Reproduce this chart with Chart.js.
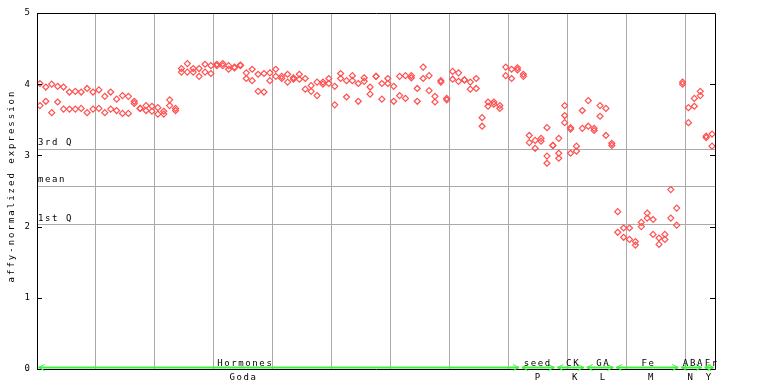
<!DOCTYPE html>
<html><head><meta charset="utf-8">
<script src="https://cdn.jsdelivr.net/npm/chart.js@4/dist/chart.umd.min.js"></script>
<style>html,body{margin:0;padding:0;background:#fff}</style>
</head><body>
<canvas id="c" width="768" height="384" style="display:block;width:768px;height:384px"></canvas>
<script>
// ---- data (sample index 0..114, two/three replicate values per sample) ----
const sampleCount = 115;
const rep1 = [4.01,3.96,4.00,3.97,3.96,3.89,3.90,3.89,3.94,3.89,3.92,3.83,3.89,3.79,3.84,3.83,3.76,3.66,3.70,3.69,
  3.67,3.62,3.78,3.66,4.22,4.29,4.22,4.22,4.28,4.26,4.28,4.29,4.26,4.24,4.26,4.16,4.21,4.14,4.15,4.16,
  4.21,4.11,4.14,4.07,4.14,4.08,3.98,4.03,4.03,4.08,3.97,4.15,4.05,4.12,4.01,4.09,3.96,4.11,4.01,4.08,
  3.97,4.11,4.12,4.12,3.94,4.24,4.12,3.83,4.05,3.80,4.18,4.16,4.06,4.03,4.08,3.53,3.75,3.75,3.70,4.24,
  4.21,4.23,4.14,3.28,3.21,3.24,3.39,3.14,3.24,3.70,3.39,3.13,3.63,3.77,3.38,3.70,3.66,3.17,2.21,1.98,
  1.98,1.79,2.06,2.19,2.10,1.84,1.89,2.52,2.26,4.03,3.67,3.80,3.90,3.27,3.30];
const rep2 = [3.70,3.76,3.60,3.75,3.65,3.65,3.65,3.66,3.60,3.65,3.66,3.60,3.65,3.63,3.59,3.59,3.73,3.66,3.63,3.62,
  3.58,3.58,3.70,3.63,4.17,4.17,4.17,4.11,4.17,4.15,4.26,4.26,4.21,4.23,4.27,4.08,4.05,3.90,3.89,4.05,
  4.11,4.08,4.03,4.09,4.07,3.93,3.90,3.84,4.00,4.01,3.71,4.08,3.82,4.05,3.76,4.04,3.86,4.11,3.79,4.01,
  3.76,3.84,3.80,4.09,3.76,4.08,3.91,3.75,4.03,3.78,4.07,4.04,4.06,3.93,3.94,3.41,3.69,3.72,3.66,4.12,
  4.08,4.20,4.11,3.18,3.10,3.20,2.99,3.14,3.03,3.56,3.37,3.06,3.38,3.41,3.35,3.55,3.28,3.14,1.92,1.85,
  1.82,1.74,2.00,2.12,1.89,1.75,1.82,2.12,2.02,4.00,3.46,3.69,3.84,3.25,3.13];
const rep3Index = [86, 88, 89, 90];
const rep3Value = [2.89, 2.96, 3.46, 3.03];
const yTickValues = [0, 1, 2, 3, 4, 5];
const refLabels = ['3rd Q', 'mean', '1st Q'];
const refValues = [3.095, 2.575, 2.03];
const groupTop = ['Hormones', 'seed', 'CK', 'GA', 'Fe', 'ABA', 'Fr'];
const groupBottom = ['Goda', 'P', 'K', 'L', 'M', 'N', 'Y'];
const groupStart = [0, 82, 88, 93, 98, 109, 113];
const groupEnd = [82, 88, 93, 98, 109, 113, 115];
const topLabelAt = [35.2, 84.8, 90.8, 95.9, 103.6, 111.2, 114.3];
const bottomLabelAt = [34.9, 84.9, 91.2, 95.9, 104.1, 110.8, 113.9];
const yTitle = 'affy-normalized expression';

// ---- chart ----
const FONT = '"DejaVu Sans Mono", "Liberation Mono", monospace';
const toPts = arr => arr.map((v, i) => ({x: i + 0.5, y: v}));
const pts3 = rep3Index.map((ix, k) => ({x: ix + 0.5, y: rep3Value[k]}));
const pointStyle = {pointStyle: 'rectRot', pointRadius: 3, pointBorderWidth: 1.2,
  pointBorderColor: '#ff5050', pointBackgroundColor: 'rgba(255,255,255,0)', showLine: false};

const al = v => Math.round(v) + 0.5;

const deco = {
  id: 'deco',
  beforeDatasetsDraw(chart) {
    const {ctx, chartArea: a, scales: {y}} = chart;
    ctx.save();
    ctx.strokeStyle = '#aaaaaa';
    ctx.lineWidth = 1;
    refValues.forEach(v => {
      const py = al(y.getPixelForValue(v));
      ctx.beginPath(); ctx.moveTo(a.left, py); ctx.lineTo(a.right, py); ctx.stroke();
    });
    ctx.fillStyle = '#000';
    ctx.font = '9px ' + FONT;
    ctx.letterSpacing = '1.6px';
    ctx.textAlign = 'left';
    ctx.textBaseline = 'alphabetic';
    refValues.forEach((v, i) => {
      const py = y.getPixelForValue(v);
      ctx.fillText(refLabels[i], a.left + 1, py - 3.5);
    });
    ctx.restore();
  },
  afterDraw(chart) {
    const {ctx, chartArea: a, scales: {x, y}} = chart;
    ctx.save();
    // frame
    ctx.strokeStyle = '#000';
    ctx.lineWidth = 1;
    ctx.beginPath();
    ctx.moveTo(al(a.left), al(a.top)); ctx.lineTo(al(a.right), al(a.top));
    ctx.lineTo(al(a.right), al(a.bottom)); ctx.lineTo(al(a.left), al(a.bottom)); ctx.closePath();
    ctx.stroke();
    // inward ticks
    yTickValues.forEach(v => {
      const py = al(y.getPixelForValue(v));
      ctx.beginPath(); ctx.moveTo(a.left, py); ctx.lineTo(a.left + 5, py); ctx.stroke();
      ctx.beginPath(); ctx.moveTo(a.right - 5, py); ctx.lineTo(a.right, py); ctx.stroke();
    });
    // green group lines with arrows
    const gy = a.bottom - 1.5;
    ctx.strokeStyle = '#3cf03c';
    ctx.lineWidth = 2;
    groupStart.forEach((s, i) => {
      const x0 = x.getPixelForValue(s) + 1.5, x1 = x.getPixelForValue(groupEnd[i]) - 1.5;
      ctx.beginPath(); ctx.moveTo(x0, gy); ctx.lineTo(x1, gy); ctx.stroke();
      ctx.lineWidth = 1;
      ctx.beginPath();
      ctx.moveTo(x0 + 6, gy - 3); ctx.lineTo(x0, gy); ctx.lineTo(x0 + 6, gy + 3);
      ctx.moveTo(x1 - 6, gy - 3); ctx.lineTo(x1, gy); ctx.lineTo(x1 - 6, gy + 3);
      ctx.stroke();
      ctx.lineWidth = 2;
    });
    // group labels
    ctx.fillStyle = '#000';
    ctx.font = '9px ' + FONT;
    ctx.letterSpacing = '1.6px';
    ctx.textAlign = 'center';
    ctx.textBaseline = 'alphabetic';
    groupTop.forEach((t, i) => ctx.fillText(t, x.getPixelForValue(topLabelAt[i]) + 0.8, 365.5));
    groupBottom.forEach((t, i) => ctx.fillText(t, x.getPixelForValue(bottomLabelAt[i]) + 0.8, 380));
    // y title
    ctx.translate(12, (a.top + a.bottom) / 2 - 5);
    ctx.rotate(-Math.PI / 2);
    ctx.letterSpacing = '2px';
    ctx.textBaseline = 'middle';
    ctx.fillText(yTitle, 0, 0);
    ctx.restore();
  }
};

new Chart(document.getElementById('c'), {
  type: 'scatter',
  data: {datasets: [
    Object.assign({label: 'rep1', data: toPts(rep1)}, pointStyle),
    Object.assign({label: 'rep2', data: toPts(rep2)}, pointStyle),
    Object.assign({label: 'rep3', data: pts3}, pointStyle)
  ]},
  options: {
    responsive: false, animation: false, devicePixelRatio: 1,
    layout: {padding: {top: 13, right: 53, left: 0, bottom: 0}},
    plugins: {legend: {display: false}, tooltip: {enabled: false}},
    scales: {
      x: {type: 'linear', min: 0, max: sampleCount,
        afterBuildTicks: s => { const t = []; for (let v = 10; v < sampleCount; v += 10) t.push({value: v}); s.ticks = t; },
        grid: {color: '#aaaaaa', lineWidth: 1, drawTicks: false},
        border: {display: false},
        ticks: {display: false},
        afterFit: s => { s.height = 15; }
      },
      y: {type: 'linear', min: 0, max: 5,
        afterBuildTicks: s => { s.ticks = yTickValues.map(v => ({value: v})); },
        grid: {display: false, drawTicks: false},
        border: {display: false},
        ticks: {color: '#000', padding: 7, font: {family: FONT, size: 9}},
        afterFit: s => { s.width = 37; }
      }
    }
  },
  plugins: [deco]
});
</script>
</body></html>
